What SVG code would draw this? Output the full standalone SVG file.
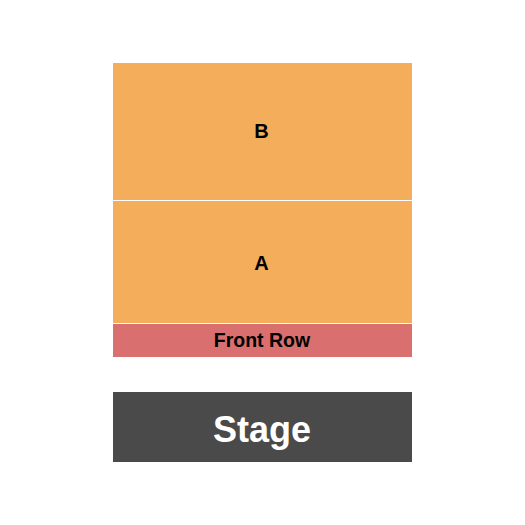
<svg xmlns="http://www.w3.org/2000/svg" width="525" height="525" viewBox="0 0 525 525">
<style>
.sec{fill:#F4AE5B}
.lbl{font-family:"Liberation Sans",Arial,sans-serif;font-weight:bold;fill:#000;text-anchor:middle}
</style>
<rect width="525" height="525" fill="#fff"/>
<g id="section-B"><rect class="sec" x="113" y="63" width="299" height="137"/><text class="lbl" x="261.5" y="138" font-size="20">B</text></g>
<g id="section-A"><rect class="sec" x="113" y="201" width="299" height="122"/><text class="lbl" x="261.5" y="270" font-size="20">A</text></g>
<g id="front-row"><rect x="113" y="324" width="299" height="33" fill="#D9706F"/><text class="lbl" x="262" y="347.3" font-size="19.5">Front Row</text></g>
<g id="stage"><rect x="113" y="392" width="299" height="70" fill="#4A4A4A"/><text class="lbl" x="262" y="441.5" font-size="36" style="fill:#fff">Stage</text></g>
<g id="connectors"/>
</svg>
